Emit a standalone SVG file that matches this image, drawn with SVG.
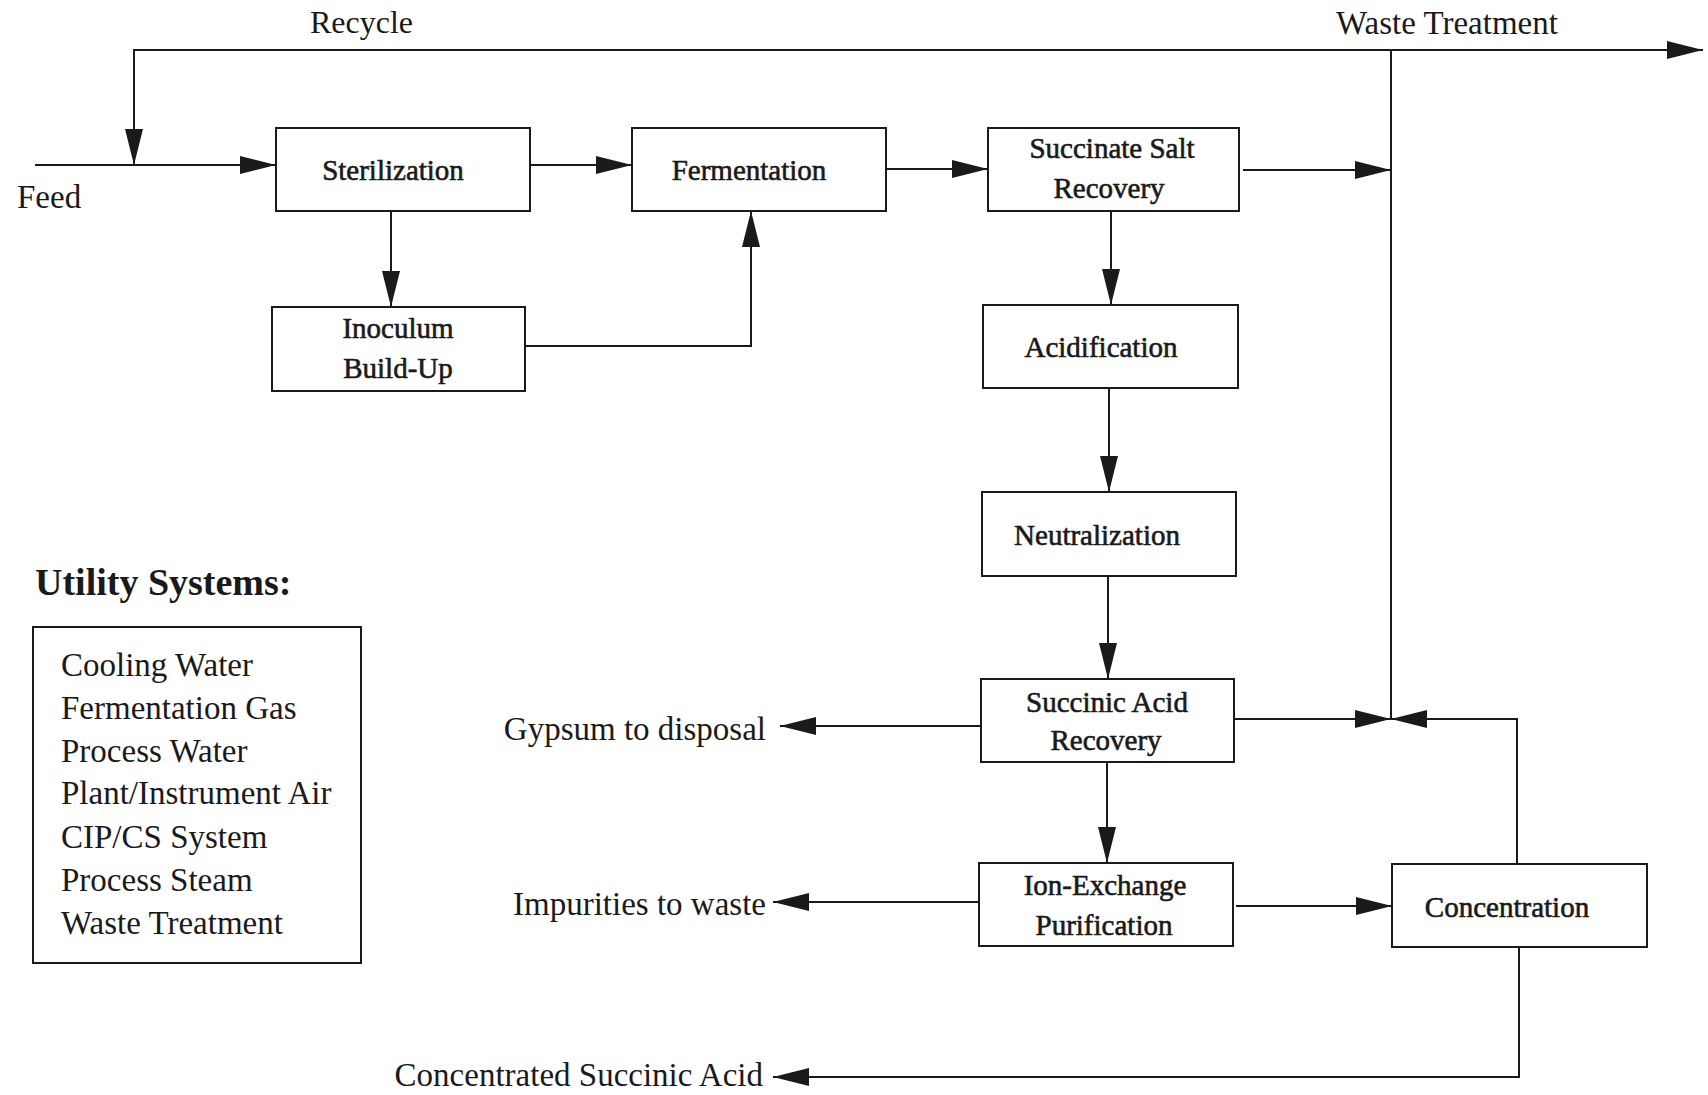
<svg xmlns="http://www.w3.org/2000/svg" width="1708" height="1095" viewBox="0 0 1708 1095">
<style>
  .box { fill: #fff; stroke: #1a1a1a; stroke-width: 2; }
  .lbl { font-family: "Liberation Serif", "Times New Roman", serif; font-size: 29px; fill: #1a1a1a; stroke: #1a1a1a; stroke-width: 0.6; text-anchor: middle; }
  .out { font-family: "Liberation Serif", "Times New Roman", serif; font-size: 33px; fill: #1a1a1a; }
  .leg { font-family: "Liberation Serif", "Times New Roman", serif; font-size: 33px; fill: #1a1a1a; }
  .title { font-family: "Liberation Serif", "Times New Roman", serif; font-size: 38px; font-weight: bold; fill: #1a1a1a; }
  .con { fill: none; stroke: #1a1a1a; stroke-width: 2; }
  .arr { marker-end: url(#ah); }
</style>
<defs>
  <marker id="ah" markerUnits="userSpaceOnUse" markerWidth="36" markerHeight="18" refX="36" refY="9" orient="auto">
    <path d="M0,0 L36,9 L0,18 Z" fill="#1a1a1a"/>
  </marker>
</defs>
<rect width="1708" height="1095" fill="#fff"/>

<g id="connectors">
  <path class="con arr" d="M1391,50 H134 V165"/>
  <path class="con arr" d="M1391,719 V50 H1703"/>
  <path class="con arr" d="M35,165 H276"/>
  <path class="con arr" d="M530,165 H632"/>
  <path class="con arr" d="M391,211 V307"/>
  <path class="con arr" d="M525,346 H751 V211"/>
  <path class="con arr" d="M886,169 H988"/>
  <path class="con arr" d="M1243,170 H1391"/>
  <path class="con arr" d="M1111,211 V305"/>
  <path class="con arr" d="M1109,388 V492"/>
  <path class="con arr" d="M1108,576 V679"/>
  <path class="con arr" d="M981,726 H780"/>
  <path class="con arr" d="M1234,719 H1391"/>
  <path class="con arr" d="M1107,762 V863"/>
  <path class="con arr" d="M979,902 H773"/>
  <path class="con arr" d="M1236,906 H1392"/>
  <path class="con arr" d="M1517,864 V719 H1391"/>
  <path class="con arr" d="M1519,947 V1077 H773"/>
</g>

<g id="sterilization">
  <rect class="box" x="276" y="128" width="254" height="83"/>
  <text class="lbl" x="393" y="180">Sterilization</text>
</g>
<g id="fermentation">
  <rect class="box" x="632" y="128" width="254" height="83"/>
  <text class="lbl" x="749" y="180">Fermentation</text>
</g>
<g id="succinate-salt-recovery">
  <rect class="box" x="988" y="128" width="251" height="83"/>
  <text class="lbl" x="1112" y="158">Succinate Salt</text>
  <text class="lbl" x="1109" y="198">Recovery</text>
</g>
<g id="inoculum">
  <rect class="box" x="272" y="307" width="253" height="84"/>
  <text class="lbl" x="398" y="338">Inoculum</text>
  <text class="lbl" x="398" y="378">Build-Up</text>
</g>
<g id="acidification">
  <rect class="box" x="983" y="305" width="255" height="83"/>
  <text class="lbl" x="1101" y="357">Acidification</text>
</g>
<g id="neutralization">
  <rect class="box" x="982" y="492" width="254" height="84"/>
  <text class="lbl" x="1097" y="545">Neutralization</text>
</g>
<g id="succinic-acid-recovery">
  <rect class="box" x="981" y="679" width="253" height="83"/>
  <text class="lbl" x="1107" y="712">Succinic Acid</text>
  <text class="lbl" x="1106" y="750">Recovery</text>
</g>
<g id="ion-exchange">
  <rect class="box" x="979" y="863" width="254" height="83"/>
  <text class="lbl" x="1105" y="895">Ion-Exchange</text>
  <text class="lbl" x="1104" y="935">Purification</text>
</g>
<g id="concentration">
  <rect class="box" x="1392" y="864" width="255" height="83"/>
  <text class="lbl" x="1507" y="917">Concentration</text>
</g>

<g id="stream-labels">
  <text class="out" x="310" y="33" style="font-size:32px">Recycle</text>
  <text class="out" x="1336" y="34">Waste Treatment</text>
  <text class="out" x="17" y="208">Feed</text>
  <text class="out" x="766" y="740" text-anchor="end">Gypsum to disposal</text>
  <text class="out" x="766" y="915" text-anchor="end">Impurities to waste</text>
  <text class="out" x="763" y="1086" text-anchor="end">Concentrated Succinic Acid</text>
</g>

<g id="utility-systems">
  <text class="title" x="35" y="595">Utility Systems:</text>
  <rect class="box" x="33" y="627" width="328" height="336"/>
  <text class="leg" x="61" y="676">Cooling Water</text>
  <text class="leg" x="61" y="719">Fermentation Gas</text>
  <text class="leg" x="61" y="762">Process Water</text>
  <text class="leg" x="61" y="804">Plant/Instrument Air</text>
  <text class="leg" x="61" y="848">CIP/CS System</text>
  <text class="leg" x="61" y="891">Process Steam</text>
  <text class="leg" x="61" y="934">Waste Treatment</text>
</g>
</svg>
